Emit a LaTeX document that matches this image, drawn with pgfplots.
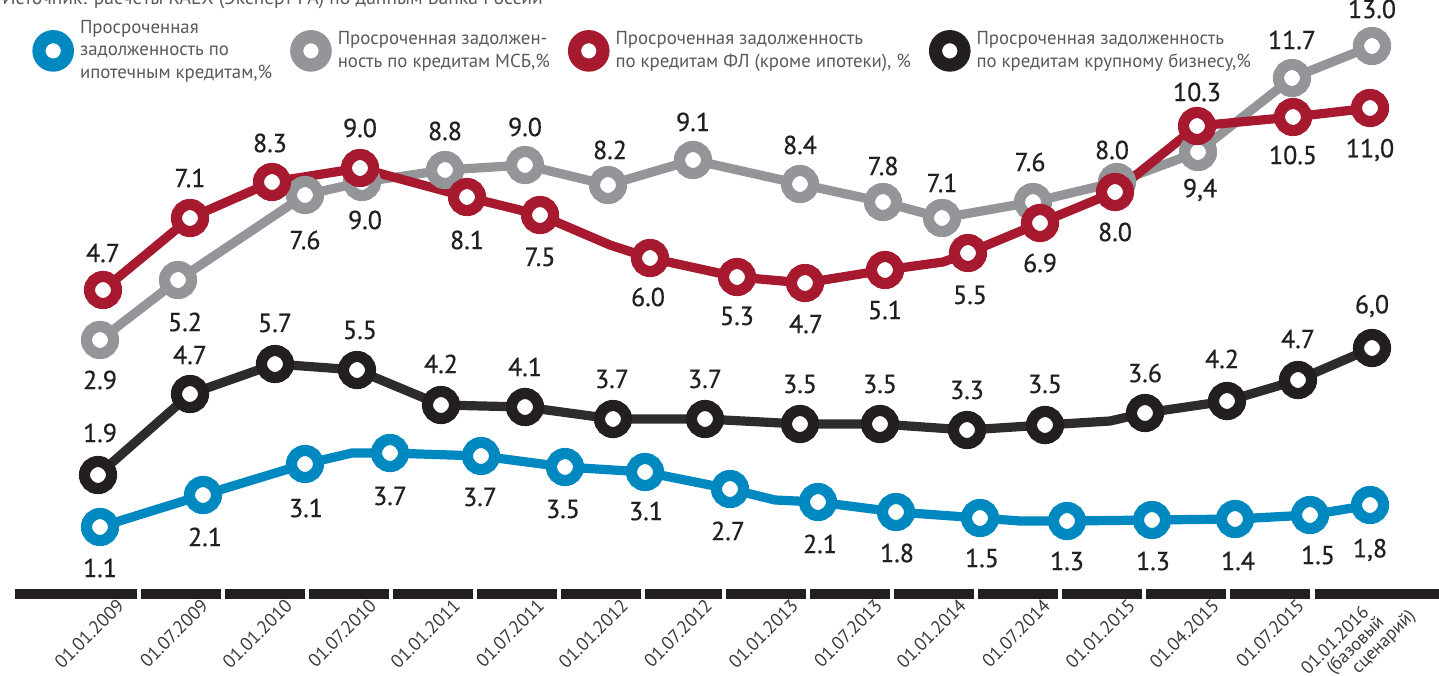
\documentclass[border=0pt]{standalone}
\usepackage{fontspec}
\setmainfont{PT Sans}
\newfontfamily\numfont{PT Sans}[FakeBold=0.6]
\usepackage{pgfplots}
\usepackage{pgfplotstable}
\pgfplotsset{compat=1.18}
\definecolor{cBlue}{HTML}{0089C0}
\definecolor{cGray}{HTML}{939598}
\definecolor{cRed}{HTML}{A6192E}
\definecolor{cBlack}{HTML}{231F20}
\definecolor{cLine}{HTML}{2E2B2C}
\definecolor{cText}{HTML}{58595B}
\definecolor{cTick}{HTML}{3A3A3A}

% x, y in picture units (y downwards); dx, dy: offset of the value label
\pgfplotstableread{
x y dx dy lab
100 527 0 41 1.1
203 495 2 42 2.1
305 464 1 44 3.1
390 453 0 43 3.7
481 456 -1 41 3.7
565 467 -2 42 3.5
645 472 1 39 3.1
730 489 -2 42 2.7
818 502 2 42 2.1
896 512 1 41 1.8
980 518 2 40 1.5
1067 521 0 40 1.3
1152 520 1 41 1.3
1235 519 3 42 1.4
1310 515 8 40 1.5
1370 505 0 45 1,8
}\blueT
\pgfplotstableread{
x y dx dy lab
100 340 0 40 2.9
178 280 7 42 5.2
305 195 0 45 7.6
362 182 3 38 9.0
445 170 0 -39 8.8
525 165 0 -38 9.0
608 185 2 -35 8.2
693 160 0 -38 9.1
800 184 0 -39 8.4
883 202 0 -36 7.8
942 218 0 -35 7.1
1033 202 -3 -40 7.6
1117 182 -5 -32 8.0
1198 152 2 38 9,4
1292 78 0 -38 11.7
1372 46 0 -37 13.0
}\grayT
\pgfplotstableread{
x y dx dy lab
103 290 0 -37 4.7
190 218 0 -40 7.1
272 182 -2 -39 8.3
360 168 0 -40 9.0
467 197 0 43 8.1
540 215 0 42 7.5
650 258 -2 39 6.0
737 277 0 39 5.3
805 283 1 41 4.7
885 270 0 40 5.1
968 253 2 42 5.5
1040 223 0 40 6.9
1115 192 0 40 8.0
1197 126 0 -34 10.3
1293 117 0 38 10.5
1370 108 0 42 11,0
}\redT
\pgfplotstableread{
x y dx dy lab
98 475 2 -42 1.9
190 394 0 -39 4.7
275 364 0 -41 5.7
357 370 3 -40 5.5
441 405 0 -41 4.2
525 407 0 -40 4.1
613 419 -1 -40 3.7
705 419 0 -40 3.7
800 424 0 -40 3.5
880 424 0 -40 3.5
967 430 0 -40 3.3
1045 425 0 -41 3.5
1145 413 0 -40 3.6
1227 401 -5 -42 4.2
1298 380 0 -41 4.7
1372 348 0 -42 6,0
}\blackT
\pgfplotstableread{
x y
15 594
137 594
nan nan
141 594
221 594
nan nan
225 594
305 594
nan nan
309 594
389 594
nan nan
393 594
473 594
nan nan
477 594
557 594
nan nan
561 594
641 594
nan nan
645 594
722 594
nan nan
726 594
806 594
nan nan
810 594
890 594
nan nan
894 594
974 594
nan nan
978 594
1058 594
nan nan
1062 594
1142 594
nan nan
1146 594
1226 594
nan nan
1230 594
1310 594
nan nan
1315 594
1439 594
}\baseT

\pgfplotsset{
  serie/.style={only marks, mark=*, mark size=6.75pt,
    mark options={draw=#1, fill=white, line width=5.6pt},
    legend image code/.code={\draw[line width=6.6pt, draw=#1, fill=white] (0pt,0pt) circle (7.1pt);}},
  sline/.style={#1, line width=4.6pt, line join=round, no marks, forget plot},
  vlab/.style={forget plot, draw=none, mark=none, nodes near coords, point meta=explicit symbolic,
    nodes near coords style={anchor=center, font=\numfont\fontsize{13pt}{15pt}\selectfont, text=cBlack, inner sep=0pt}},
}

\begin{document}
\begin{tikzpicture}
\begin{axis}[
  x=0.5pt, y=0.5pt, y dir=reverse,
  xmin=0, xmax=1439, ymin=0, ymax=597,
  clip=false,
  axis line style={draw=none},
  ytick=\empty,
  major tick length=0pt,
  xtick={116,200,284,368,452,536,620,704,790,874,958,1042,1127,1211,1296},
  xticklabels={01.01.2009,01.07.2009,01.01.2010,01.07.2010,01.01.2011,01.07.2011,01.01.2012,01.07.2012,01.01.2013,01.07.2013,01.01.2014,01.07.2014,01.01.2015,01.04.2015,01.07.2015},
  extra x ticks={1382},
  extra x tick labels={{01.01.2016\\\hspace*{9pt}(базовый\\\hspace*{18pt}сценарий)}},
  extra x tick style={xticklabel shift=-7.25pt, major tick length=0pt,
    xticklabel style={font=\fontsize{9.1pt}{8.8pt}\selectfont}},
  xticklabel pos=lower,
  xticklabel style={rotate=45, anchor=north east, align=left, inner sep=0pt,
    font=\fontsize{9.3pt}{9.5pt}\selectfont, text=cTick},
  legend columns=4,
  legend style={at={(axis cs:26,12)}, anchor=north west, draw=none, fill=none,
    cells={align=left}, font=\fontsize{9.4pt}{11.2pt}\selectfont, text=cText,
    /tikz/every even column/.append style={column sep=7pt},
    /tikz/every odd column/.append style={column sep=1pt}},
]
\addplot[cBlack, line width=5pt, unbounded coords=jump, forget plot] table[x=x,y=y]{\baseT};

\addplot[sline=cBlue] coordinates {(100,527)(203,495)(305,464)(352,453)(390,453)(481,456)(565,467)(645,472)(730,489)(775,500)(818,502)(896,512)(980,518)(1020,521)(1067,521)(1152,520)(1235,519)(1310,515)(1370,505)};
\addplot[serie=cBlue] table[x=x,y=y]{\blueT};
\addlegendentry{Просроченная\\задолженность по\\ипотечным кредитам,\%}

\addplot[sline=cGray] table[x=x,y=y]{\grayT};
\addplot[serie=cGray] table[x=x,y=y]{\grayT};
\addlegendentry{Просроченная задолжен-\\ность по кредитам МСБ,\%}

\addplot[sline=cRed] coordinates {(103,290)(190,218)(272,182)(360,168)(467,197)(540,215)(610,245)(650,258)(737,277)(805,283)(885,270)(943,262)(968,253)(1040,223)(1115,192)(1197,126)(1293,117)(1370,108)};
\addplot[serie=cRed] table[x=x,y=y]{\redT};
\addlegendentry{Просроченная задолженность\\по кредитам ФЛ (кроме ипотеки), \%}

\addplot[sline=cLine] coordinates {(98,475)(190,394)(275,364)(357,370)(441,405)(525,407)(613,419)(705,419)(800,424)(880,424)(967,430)(1045,425)(1110,421)(1145,413)(1227,401)(1298,380)(1372,348)};
\addplot[serie=cBlack] table[x=x,y=y]{\blackT};
\addlegendentry{Просроченная задолженность\\по кредитам крупному бизнесу,\%}

\addplot[vlab] table[x expr=\thisrow{x}+\thisrow{dx}, y expr=\thisrow{y}+\thisrow{dy}, meta=lab]{\blueT};
\addplot[vlab] table[x expr=\thisrow{x}+\thisrow{dx}, y expr=\thisrow{y}+\thisrow{dy}, meta=lab]{\grayT};
\addplot[vlab] table[x expr=\thisrow{x}+\thisrow{dx}, y expr=\thisrow{y}+\thisrow{dy}, meta=lab]{\redT};
\addplot[vlab] table[x expr=\thisrow{x}+\thisrow{dx}, y expr=\thisrow{y}+\thisrow{dy}, meta=lab]{\blackT};

\node[anchor=base west, font=\fontsize{9.8pt}{11pt}\selectfont, text=cText, inner sep=0pt] at (axis cs:2,4) {Источник: расчеты RAEX (Эксперт РА) по данным Банка России};
\coordinate (tl) at (axis cs:0,0);
\coordinate (br) at (axis cs:1439,675);
\end{axis}
\pgfresetboundingbox
\path[use as bounding box] (tl) rectangle (br);
\end{tikzpicture}
\end{document}
